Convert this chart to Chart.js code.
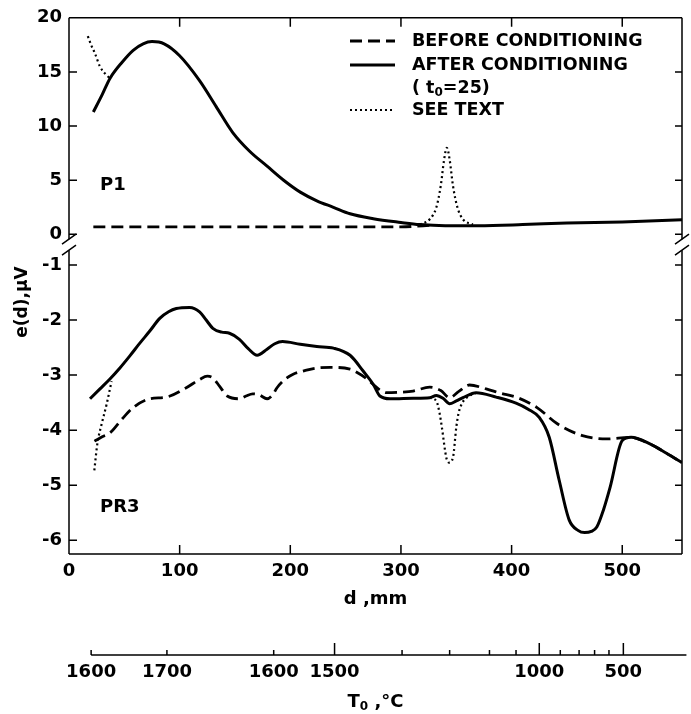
<!DOCTYPE html>
<html>
<head>
<meta charset="utf-8">
<script src="https://cdn.jsdelivr.net/npm/chart.js@4.4.1/dist/chart.umd.min.js"></script>
<style>
  html, body { margin: 0; padding: 0; background: #fff; }
</style>
</head>
<body>
<canvas id="myChart" width="691" height="714"></canvas>
<script>
// series names (legend)
const seriesNames = ['BEFORE CONDITIONING', 'AFTER CONDITIONING', 'SEE TEXT'];

// axis ticks
const xTicks = [0, 100, 200, 300, 400, 500];
const topTicks = [0, 5, 10, 15, 20];
const botTicks = [-1, -2, -3, -4, -5, -6];

// second (temperature) axis, tick positions in d (mm)
const t0Ticks = [20, 88.5, 185, 240, 301, 344, 380, 404, 425, 444, 461, 475, 488, 501];
const t0Labels = ['1600', '1700', '1600', '1500', '', '', '', '', '1000', '', '', '', '', '500'];
const t0Tall = [240, 425, 501];
const t0AxisEnd = 558;

// P1 (upper panel)
const afterTopD = [22, 30, 37, 48, 58, 67, 75, 86, 100, 118, 133, 148, 163, 179, 194, 209, 224, 239, 254, 275, 300, 317, 340, 370, 410, 450, 500, 554];
const afterTopE = [11.3, 12.9, 14.4, 15.9, 17.0, 17.6, 17.8, 17.6, 16.5, 14.2, 11.8, 9.4, 7.7, 6.3, 5.0, 3.9, 3.1, 2.5, 1.9, 1.45, 1.1, 0.9, 0.8, 0.8, 0.9, 1.05, 1.15, 1.35];
const beforeTopD = [22, 100, 200, 300, 330];
const beforeTopE = [0.7, 0.7, 0.7, 0.7, 0.85];
const seeTop1D = [17, 20, 23.5, 28, 33, 37];
const seeTop1E = [18.3, 17.5, 16.7, 15.5, 14.8, 14.4];
const seeTop2D = [317, 326, 332, 336, 339, 341.5, 344, 347, 351, 356, 365];
const seeTop2E = [0.9, 1.4, 2.5, 4.5, 6.9, 8.0, 6.9, 4.5, 2.5, 1.4, 0.9];

// PR3 (lower panel)
const afterBotD = [19, 28, 37, 46, 55, 64, 73, 82, 90, 97, 109, 118, 124, 130, 138, 145, 154, 162, 170, 179, 186, 193, 209, 224, 239, 254, 266, 275, 281, 290, 311, 326, 332, 338, 344, 350, 356, 368, 386, 404, 415, 425, 434, 443, 452, 460, 466, 472, 477, 483, 489, 500, 508, 525, 540, 554];
const afterBotE = [-3.43, -3.25, -3.07, -2.87, -2.65, -2.42, -2.2, -1.97, -1.85, -1.79, -1.77, -1.85, -2.0, -2.15, -2.22, -2.24, -2.35, -2.52, -2.64, -2.53, -2.43, -2.39, -2.44, -2.48, -2.51, -2.64, -2.93, -3.17, -3.38, -3.43, -3.42, -3.41, -3.37, -3.42, -3.52, -3.47, -3.41, -3.32, -3.40, -3.51, -3.62, -3.77, -4.13, -4.91, -5.63, -5.82, -5.86, -5.84, -5.76, -5.45, -5.04, -4.19, -4.13, -4.25, -4.42, -4.59];
const beforeBotD = [23, 30, 37, 47, 58, 73, 88, 106, 118, 125, 130, 136, 143, 154, 160, 166, 172, 179, 184, 188, 195, 203, 213, 224, 236, 254, 260, 268, 275, 281, 287, 300, 311, 326, 336, 344, 352, 362, 377, 390, 404, 423, 441, 464, 486, 507, 525, 540, 554];
const beforeBotE = [-4.2, -4.12, -4.05, -3.82, -3.59, -3.43, -3.40, -3.23, -3.08, -3.02, -3.05, -3.2, -3.38, -3.43, -3.38, -3.34, -3.36, -3.43, -3.36, -3.23, -3.08, -2.98, -2.92, -2.87, -2.86, -2.89, -2.95, -3.05, -3.17, -3.27, -3.32, -3.31, -3.29, -3.22, -3.28, -3.41, -3.3, -3.18, -3.25, -3.33, -3.40, -3.59, -3.88, -4.10, -4.16, -4.13, -4.25, -4.42, -4.59];
const seeBot1D = [22.9, 25.6, 29.5, 34, 38.5];
const seeBot1E = [-4.73, -4.25, -3.89, -3.53, -3.11];
const seeBot2D = [326, 332, 335, 337, 341, 343.5, 347, 350, 352, 355, 360, 368];
const seeBot2E = [-3.41, -3.47, -3.7, -3.95, -4.5, -4.59, -4.5, -3.95, -3.7, -3.52, -3.4, -3.32];

const FONT = '"DejaVu Sans", sans-serif';
const pts = (d, e) => d.map((v, i) => ({x: v, y: e[i]}));

function line(d, e, axis, style) {
    const s = {
        solid: {borderWidth: 3, borderDash: []},
        dashed: {borderWidth: 2.8, borderDash: [12, 6]},
        dotted: {borderWidth: 2.2, borderDash: [2, 3]}
    }[style];
    return {
        data: pts(d, e),
        yAxisID: axis,
        borderColor: '#000',
        borderWidth: s.borderWidth,
        borderDash: s.borderDash,
        pointRadius: 0,
        fill: false,
        cubicInterpolationMode: 'monotone'
    };
}

const decor = {
    id: 'decor',
    afterDraw(chart) {
        const {ctx, chartArea: a, scales: {x, yTop, yBot}} = chart;
        const split = yTop.bottom;
        ctx.save();
        ctx.strokeStyle = '#000';
        ctx.fillStyle = '#000';
        ctx.lineWidth = 1.5;
        ctx.setLineDash([]);

        // frame with gap at the axis break
        ctx.beginPath();
        ctx.moveTo(a.left, a.top); ctx.lineTo(a.right, a.top);
        ctx.moveTo(a.left, a.bottom); ctx.lineTo(a.right, a.bottom);
        [a.left, a.right].forEach(px => {
            ctx.moveTo(px, a.top); ctx.lineTo(px, split - 6);
            ctx.moveTo(px, split + 5); ctx.lineTo(px, a.bottom);
        });
        // inward ticks
        xTicks.forEach(v => {
            if (v === 0) return;
            const px = x.getPixelForValue(v);
            ctx.moveTo(px, a.bottom); ctx.lineTo(px, a.bottom - 9);
            ctx.moveTo(px, a.top); ctx.lineTo(px, a.top + 9);
        });
        [[yTop, topTicks], [yBot, botTicks]].forEach(([s, ticks]) => {
            ticks.forEach(v => {
                const py = s.getPixelForValue(v);
                if (Math.abs(py - a.top) < 2) return;
                ctx.moveTo(a.left, py); ctx.lineTo(a.left + 8, py);
                ctx.moveTo(a.right, py); ctx.lineTo(a.right - 7, py);
            });
        });
        ctx.stroke();

        // break marks
        ctx.beginPath();
        [a.left, a.right].forEach(px => {
            [-6, 5].forEach(dy => {
                ctx.moveTo(px - 7, split + dy + 5);
                ctx.lineTo(px + 7, split + dy - 5);
            });
        });
        ctx.stroke();

        // panel names
        ctx.font = 'bold 18px ' + FONT;
        ctx.textAlign = 'left';
        ctx.textBaseline = 'middle';
        ctx.fillText('P1', x.getPixelForValue(28), yTop.getPixelForValue(4.5));
        ctx.fillText('PR3', x.getPixelForValue(28), yBot.getPixelForValue(-5.41));

        // legend
        const lx0 = 350, lx1 = 395, tx = 412;
        const rows = [
            {y: 41, w: 2.8, dash: [12, 6], text: seriesNames[0]},
            {y: 65, w: 3, dash: [], text: seriesNames[1]},
            {y: 110, w: 2.2, dash: [2, 3], text: seriesNames[2]}
        ];
        ctx.font = 'bold 17.5px ' + FONT;
        rows.forEach(r => {
            ctx.beginPath();
            ctx.lineWidth = r.w;
            ctx.setLineDash(r.dash);
            ctx.moveTo(lx0, r.y); ctx.lineTo(lx1, r.y);
            ctx.stroke();
            ctx.fillText(r.text, tx, r.y);
        });
        ctx.setLineDash([]);
        let cx = tx;
        ctx.fillText('( t', cx, 88);
        cx += ctx.measureText('( t').width;
        ctx.font = 'bold 12px ' + FONT;
        ctx.fillText('0', cx, 93);
        cx += ctx.measureText('0').width;
        ctx.font = 'bold 17.5px ' + FONT;
        ctx.fillText('=25)', cx, 88);

        // y title
        ctx.save();
        ctx.translate(23, 302);
        ctx.rotate(-Math.PI / 2);
        ctx.textAlign = 'center';
        ctx.font = 'bold 17px ' + FONT;
        ctx.fillText('e(d),\u03bcV', 0, 0);
        ctx.restore();

        // temperature axis
        const ty = 655;
        ctx.lineWidth = 1.5;
        ctx.beginPath();
        ctx.moveTo(x.getPixelForValue(t0Ticks[0]), ty);
        ctx.lineTo(x.getPixelForValue(t0AxisEnd), ty);
        t0Ticks.forEach(v => {
            const px = x.getPixelForValue(v);
            ctx.moveTo(px, ty);
            ctx.lineTo(px, ty - (t0Tall.includes(v) ? 12 : 5));
        });
        ctx.stroke();
        ctx.font = 'bold 18px ' + FONT;
        ctx.textAlign = 'center';
        t0Ticks.forEach((v, i) => {
            if (t0Labels[i]) ctx.fillText(t0Labels[i], x.getPixelForValue(v), 672);
        });
        // T0 title
        ctx.textAlign = 'left';
        const w1 = ctx.measureText('T').width;
        const w3 = ctx.measureText(' ,\u00b0C').width;
        ctx.font = 'bold 12px ' + FONT;
        const w2 = ctx.measureText('0').width;
        let sx = (a.left + a.right) / 2 - (w1 + w2 + w3) / 2;
        ctx.font = 'bold 18px ' + FONT;
        ctx.fillText('T', sx, 702);
        ctx.font = 'bold 12px ' + FONT;
        ctx.fillText('0', sx + w1, 707);
        ctx.font = 'bold 18px ' + FONT;
        ctx.fillText(' ,\u00b0C', sx + w1 + w2, 702);
        ctx.restore();
    }
};

const yCommon = {
    type: 'linear',
    position: 'left',
    stack: 'e',
    grid: {display: false, drawTicks: false},
    border: {display: false},
    ticks: {padding: 7, color: '#000', font: {family: FONT, size: 18, weight: 'bold'}},
    afterFit: s => { s.width = 69; }
};

const ctx = document.getElementById('myChart').getContext('2d');
const chart = new Chart(ctx, {
    type: 'line',
    data: {
        datasets: [
            line(afterTopD, afterTopE, 'yTop', 'solid'),
            line(beforeTopD, beforeTopE, 'yTop', 'dashed'),
            line(seeTop1D, seeTop1E, 'yTop', 'dotted'),
            line(seeTop2D, seeTop2E, 'yTop', 'dotted'),
            line(afterBotD, afterBotE, 'yBot', 'solid'),
            line(beforeBotD, beforeBotE, 'yBot', 'dashed'),
            line(seeBot1D, seeBot1E, 'yBot', 'dotted'),
            line(seeBot2D, seeBot2E, 'yBot', 'dotted')
        ]
    },
    options: {
        responsive: false,
        animation: false,
        devicePixelRatio: 1,
        layout: {padding: {top: 14, right: 9, left: 0, bottom: 104}},
        plugins: {legend: {display: false}, tooltip: {enabled: false}},
        scales: {
            x: {
                type: 'linear',
                min: 0,
                max: 554,
                grid: {display: false, drawTicks: false},
                border: {display: false},
                ticks: {padding: 7, color: '#000', font: {family: FONT, size: 18, weight: 'bold'}},
                afterBuildTicks: s => { s.ticks = xTicks.map(v => ({value: v})); },
                title: {display: true, text: 'd ,mm', color: '#000', padding: {top: 7, bottom: 0},
                        font: {family: FONT, size: 18, weight: 'bold'}},
                afterFit: s => { s.height = 56; }
            },
            yTop: Object.assign({}, yCommon, {
                min: -1, max: 20, weight: 2, stackWeight: 229,
                afterBuildTicks: s => { s.ticks = topTicks.map(v => ({value: v})); }
            }),
            yBot: Object.assign({}, yCommon, {
                min: -6.25, max: -0.64, weight: 1, stackWeight: 311,
                afterBuildTicks: s => { s.ticks = botTicks.map(v => ({value: v})); }
            })
        }
    },
    plugins: [decor]
});
</script>
</body>
</html>
